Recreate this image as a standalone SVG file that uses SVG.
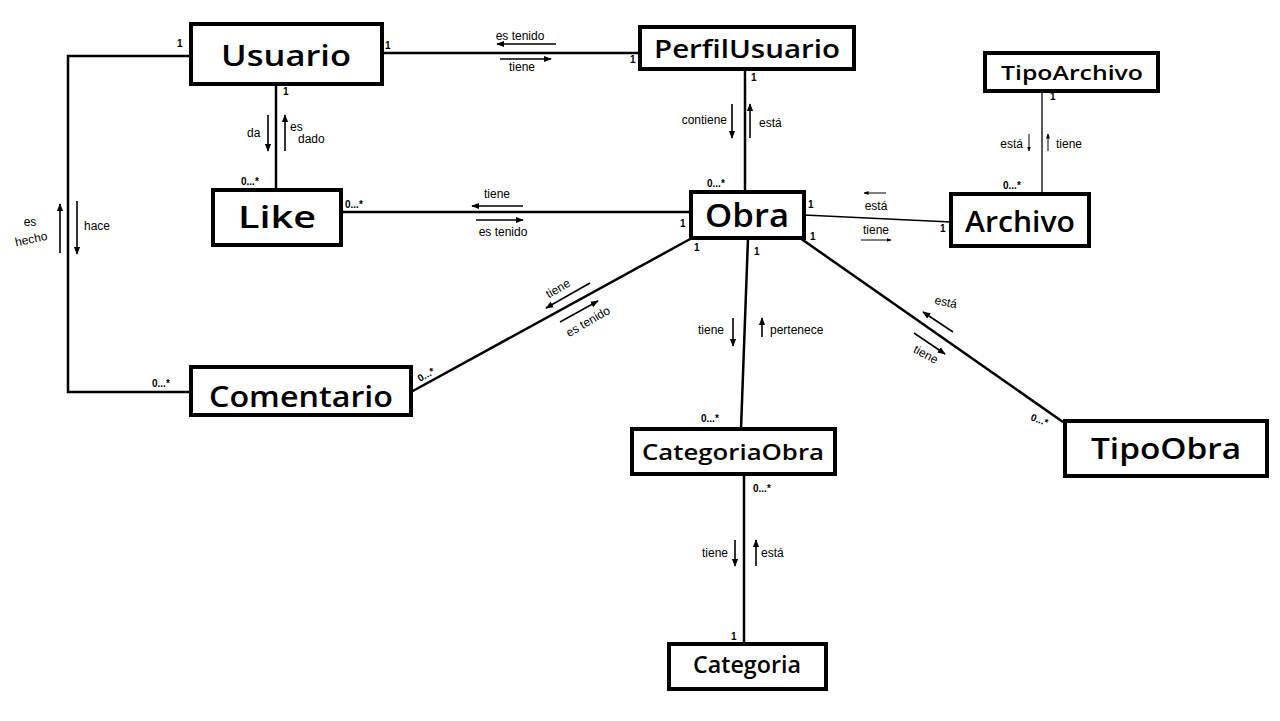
<svg xmlns="http://www.w3.org/2000/svg" width="1280" height="721" viewBox="0 0 1280 721">
<defs>
<marker id="ah" viewBox="0 0 10 10" refX="9" refY="5" markerWidth="5" markerHeight="5" orient="auto">
<path d="M0,1 L10,5 L0,9 z" fill="#000"/>
</marker>
<style>
.box{fill:#fff;stroke:#000;stroke-width:4}
.nt{font-family:"Open Sans","Liberation Sans",sans-serif;font-weight:600;fill:#000;text-anchor:middle;dominant-baseline:central}
.ln{fill:none;stroke:#000;stroke-width:2.5}
.thin{fill:none;stroke:#000;stroke-width:1.3}
.ar{fill:none;stroke:#000;stroke-width:1.6;marker-end:url(#ah)}
.lb{font-family:"Liberation Sans",sans-serif;font-size:12px;fill:#000}
.m{font-family:"Liberation Sans",sans-serif;font-size:10px;font-weight:bold;fill:#000}
</style>
</defs>
<rect width="1280" height="721" fill="#fff"/>

<g id="connectors">
<!-- Usuario - PerfilUsuario -->
<line class="ln" x1="382" y1="53" x2="640" y2="53"/>
<line class="ar" x1="556" y1="44" x2="497" y2="44"/>
<line class="ar" x1="500" y1="59" x2="551" y2="59"/>
<text class="lb" x="520" y="40" text-anchor="middle">es tenido</text>
<text class="lb" x="522" y="71" text-anchor="middle" font-size="10">tiene</text>
<text class="m" x="385" y="49">1</text>
<text class="m" x="630" y="63">1</text>

<!-- Usuario - Comentario -->
<polyline class="ln" points="190,56 68,56 68,392 191,392"/>
<line class="ar" x1="60" y1="253" x2="60" y2="204"/>
<line class="ar" x1="77" y1="201" x2="77" y2="254"/>
<text class="lb" x="30" y="226" text-anchor="middle" font-size="11">es</text>
<text class="lb" x="32" y="243" text-anchor="middle" transform="rotate(-12 32 243)">hecho</text>
<text class="lb" x="84" y="230">hace</text>
<text class="m" x="177" y="47">1</text>
<text class="m" x="152" y="387">0...*</text>

<!-- Usuario - Like -->
<line class="ln" x1="276" y1="84" x2="276" y2="190"/>
<line class="ar" x1="268" y1="115" x2="268" y2="151"/>
<line class="ar" x1="285" y1="151" x2="285" y2="115"/>
<text class="lb" x="247" y="137">da</text>
<text class="lb" x="290" y="131" font-size="10">es</text>
<text class="lb" x="298" y="143">dado</text>
<text class="m" x="283" y="95">1</text>
<text class="m" x="241" y="185">0...*</text>

<!-- Like - Obra -->
<line class="ln" x1="341" y1="212" x2="691" y2="212"/>
<line class="ar" x1="523" y1="206" x2="472" y2="206"/>
<line class="ar" x1="476" y1="220" x2="523" y2="220"/>
<text class="lb" x="497" y="198" text-anchor="middle" font-size="11">tiene</text>
<text class="lb" x="503" y="236" text-anchor="middle">es tenido</text>
<text class="m" x="345" y="208">0...*</text>
<text class="m" x="680" y="227">1</text>

<!-- PerfilUsuario - Obra -->
<line class="ln" x1="745" y1="69" x2="745" y2="192"/>
<line class="ar" x1="732" y1="104" x2="732" y2="138"/>
<line class="ar" x1="750" y1="138" x2="750" y2="104"/>
<text class="lb" x="727" y="124" text-anchor="end" font-size="11">contiene</text>
<text class="lb" x="759" y="127">está</text>
<text class="m" x="751" y="81">1</text>
<text class="m" x="707" y="187">0...*</text>

<!-- Obra - Archivo -->
<line class="thin" x1="804" y1="215" x2="951" y2="222"/>
<line class="ar" x1="886" y1="193" x2="864" y2="193" style="stroke-width:1"/>
<line class="ar" x1="861" y1="240" x2="891" y2="240" style="stroke-width:1"/>
<text class="lb" x="876" y="210" text-anchor="middle" font-size="11">está</text>
<text class="lb" x="876" y="234" text-anchor="middle" font-size="11">tiene</text>
<text class="m" x="808" y="208" font-weight="normal">1</text>
<text class="m" x="940" y="232" font-weight="normal">1</text>

<!-- TipoArchivo - Archivo -->
<line class="thin" x1="1042" y1="91" x2="1042" y2="194"/>
<line class="ar" x1="1029" y1="134" x2="1029" y2="151" style="stroke-width:1"/>
<line class="ar" x1="1048" y1="151" x2="1048" y2="134" style="stroke-width:1"/>
<text class="lb" x="1023" y="148" text-anchor="end">está</text>
<text class="lb" x="1056" y="148">tiene</text>
<text class="m" x="1050" y="100" font-weight="normal">1</text>
<text class="m" x="1003" y="189" font-weight="normal">0...*</text>

<!-- Obra - Comentario -->
<line class="ln" x1="692" y1="238" x2="411" y2="392"/>
<line class="ar" x1="590" y1="283" x2="546" y2="308"/>
<line class="ar" x1="560" y1="322" x2="598" y2="301"/>
<text class="lb" x="560" y="292" text-anchor="middle" font-size="10" transform="rotate(-30 560 292)">tiene</text>
<text class="lb" x="590" y="325" text-anchor="middle" font-size="10" transform="rotate(-30 590 325)">es tenido</text>
<text class="m" x="694" y="251">1</text>
<text class="m" x="420" y="382" transform="rotate(-30 420 382)">0...*</text>

<!-- Obra - CategoriaObra -->
<line class="ln" x1="748" y1="238" x2="741" y2="429"/>
<line class="ar" x1="733" y1="318" x2="733" y2="346"/>
<line class="ar" x1="762" y1="337" x2="762" y2="318"/>
<text class="lb" x="724" y="334" text-anchor="end">tiene</text>
<text class="lb" x="770" y="334">pertenece</text>
<text class="m" x="754" y="255">1</text>
<text class="m" x="701" y="422" font-weight="normal" font-size="11">0...*</text>

<!-- Obra - TipoObra -->
<line class="ln" x1="800" y1="238" x2="1063" y2="422"/>
<line class="ar" x1="953" y1="332" x2="923" y2="312"/>
<line class="ar" x1="914" y1="333" x2="945" y2="354"/>
<text class="lb" x="945" y="306" text-anchor="middle" transform="rotate(12 945 306)">está</text>
<text class="lb" x="924" y="358" text-anchor="middle" font-size="11" transform="rotate(28 924 358)">tiene</text>
<text class="m" x="810" y="240">1</text>
<text class="m" x="1030" y="420" font-weight="normal" font-size="11" transform="rotate(20 1030 420)">0...*</text>

<!-- CategoriaObra - Categoria -->
<line class="ln" x1="744" y1="474" x2="744" y2="644"/>
<line class="ar" x1="735" y1="540" x2="735" y2="566"/>
<line class="ar" x1="756" y1="566" x2="756" y2="540"/>
<text class="lb" x="728" y="557" text-anchor="end">tiene</text>
<text class="lb" x="761" y="557">está</text>
<text class="m" x="753" y="492" font-weight="normal" font-size="11">0...*</text>
<text class="m" x="731" y="640">1</text>
</g>

<g id="Usuario"><rect class="box" x="191" y="24" width="191" height="60"/><text class="nt" x="286" y="55" font-size="28" textLength="130" lengthAdjust="spacingAndGlyphs">Usuario</text></g>
<g id="PerfilUsuario"><rect class="box" x="640" y="27" width="214" height="42"/><text class="nt" x="747" y="48" font-size="25" textLength="186" lengthAdjust="spacingAndGlyphs">PerfilUsuario</text></g>
<g id="TipoArchivo"><rect class="box" x="985" y="53" width="173" height="38"/><text class="nt" x="1072" y="72" font-size="20" textLength="142" lengthAdjust="spacingAndGlyphs">TipoArchivo</text></g>
<g id="Like"><rect class="box" x="213" y="190" width="128" height="55"/><text class="nt" x="277" y="216" font-size="30" textLength="78" lengthAdjust="spacingAndGlyphs">Like</text></g>
<g id="Obra"><rect class="box" x="691" y="192" width="113" height="46"/><text class="nt" x="747" y="214" font-size="32" textLength="84" lengthAdjust="spacingAndGlyphs">Obra</text></g>
<g id="Archivo"><rect class="box" x="951" y="194" width="138" height="52"/><text class="nt" x="1020" y="221" font-size="28" textLength="110" lengthAdjust="spacingAndGlyphs">Archivo</text></g>
<g id="Comentario"><rect class="box" x="191" y="367" width="220" height="48"/><text class="nt" x="301" y="396" font-size="28" textLength="184" lengthAdjust="spacingAndGlyphs">Comentario</text></g>
<g id="CategoriaObra"><rect class="box" x="632" y="429" width="203" height="45"/><text class="nt" x="733" y="451" font-size="22" textLength="182" lengthAdjust="spacingAndGlyphs">CategoriaObra</text></g>
<g id="TipoObra"><rect class="box" x="1065" y="421" width="202" height="55"/><text class="nt" x="1166" y="448" font-size="28" textLength="150" lengthAdjust="spacingAndGlyphs">TipoObra</text></g>
<g id="Categoria"><rect class="box" x="669" y="644" width="157" height="45"/><text class="nt" x="747" y="664" font-size="23" textLength="108" lengthAdjust="spacingAndGlyphs">Categoria</text></g>
</svg>
